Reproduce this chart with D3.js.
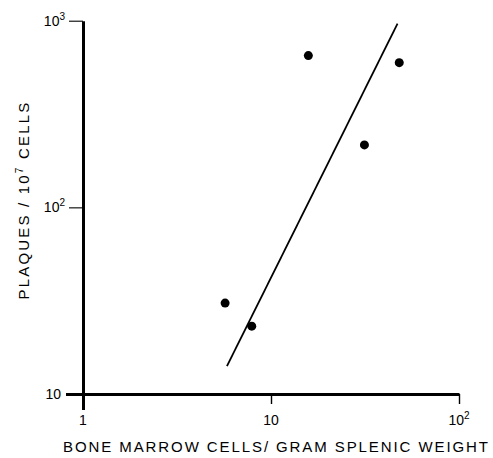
<!DOCTYPE html>
<html>
<head>
<meta charset="utf-8">
<script src="https://cdn.jsdelivr.net/npm/d3@7"></script>
<style>
  html, body { margin: 0; padding: 0; background: #fff; }
  svg { display: block; font-family: "Liberation Sans", Arial, sans-serif; }
</style>
</head>
<body>
<svg id="chart" width="493" height="458"></svg>
<script>
// bone marrow cells / gram splenic weight vs plaques / 10^7 cells
const marrowCells = [5.7, 7.9, 15.8, 31.4, 48.1];
const plaques = [30.7, 23.1, 650, 216, 596];

// regression line end points
const fitX = [5.83, 47.1];
const fitY = [14.1, 964];

const xTicks = [1, 10, 100];
const xTickBase = ["1", "10", "10"];
const xTickExp = ["", "", "2"];
const yTicks = [10, 100, 1000];
const yTickBase = ["10", "10", "10"];
const yTickExp = ["", "2", "3"];

const xTitle = "BONE MARROW CELLS/ GRAM SPLENIC WEIGHT";

const svg = d3.select("#chart");

const x = d3.scaleLog().domain([1, 100]).range([83, 459]);
const y = d3.scaleLog().domain([10, 1000]).range([394, 20.7]);

// x axis
const gx = svg.append("g")
    .attr("transform", "translate(0," + y(10) + ")")
    .call(d3.axisBottom(x).tickValues(xTicks).tickSizeOuter(0).tickFormat(""));
gx.select(".domain").attr("stroke", "#000").attr("stroke-width", 3);
gx.selectAll(".tick line")
    .attr("stroke", "#000")
    .attr("y2", d => d === 1 ? 16 : 10)
    .attr("stroke-width", d => d === 1 ? 3 : 1.4);

// y axis
const gy = svg.append("g")
    .attr("transform", "translate(" + x(1) + ",0)")
    .call(d3.axisLeft(y).tickValues(yTicks).tickSizeOuter(0).tickFormat(""));
gy.select(".domain").attr("stroke", "#000").attr("stroke-width", 3);
gy.selectAll(".tick line")
    .attr("stroke", "#000")
    .attr("x2", d => d === 10 ? -17 : -14)
    .attr("stroke-width", d => d === 10 ? 3 : 1.1);

// tick labels
const xl = svg.append("g").selectAll("text")
    .data(xTicks)
    .join("text")
    .attr("x", d => x(d))
    .attr("y", 425)
    .attr("text-anchor", "middle")
    .attr("font-size", 14)
    .attr("fill", "#000");
xl.append("tspan").text((d, i) => xTickBase[i]);
xl.append("tspan")
    .attr("font-size", 10)
    .attr("dy", -6)
    .text((d, i) => xTickExp[i]);

const yl = svg.append("g").selectAll("text")
    .data(yTicks)
    .join("text")
    .attr("x", (d, i) => yTickExp[i] ? 65 : 61)
    .attr("y", d => y(d) + 5)
    .attr("text-anchor", "end")
    .attr("font-size", 14)
    .attr("fill", "#000");
yl.append("tspan").text((d, i) => yTickBase[i]);
yl.append("tspan")
    .attr("font-size", 10)
    .attr("dy", -6)
    .text((d, i) => yTickExp[i]);

// axis titles
svg.append("text")
    .attr("x", 63)
    .attr("y", 452)
    .attr("font-size", 15)
    .attr("textLength", 425)
    .attr("lengthAdjust", "spacing")
    .text(xTitle);

const yt = svg.append("text")
    .attr("transform", "translate(29,200) rotate(-90)")
    .attr("text-anchor", "middle")
    .attr("font-size", 15);
yt.append("tspan").text("PLAQUES / 10");
yt.append("tspan").attr("font-size", 10).attr("dy", -6).text("7");
yt.append("tspan").attr("dy", 6).text(" CELLS");
const ytw = yt.node().getComputedTextLength();
yt.attr("letter-spacing", (199 - ytw) / 19);

// regression line
const line = d3.line()
    .x(d => x(d[0]))
    .y(d => y(d[1]));
svg.append("path")
    .datum(d3.zip(fitX, fitY))
    .attr("d", line)
    .attr("fill", "none")
    .attr("stroke", "#000")
    .attr("stroke-width", 1.8);

// points
svg.append("g").selectAll("circle")
    .data(d3.zip(marrowCells, plaques))
    .join("circle")
    .attr("cx", d => x(d[0]))
    .attr("cy", d => y(d[1]))
    .attr("r", 4.5)
    .attr("fill", "#000");
</script>
</body>
</html>
